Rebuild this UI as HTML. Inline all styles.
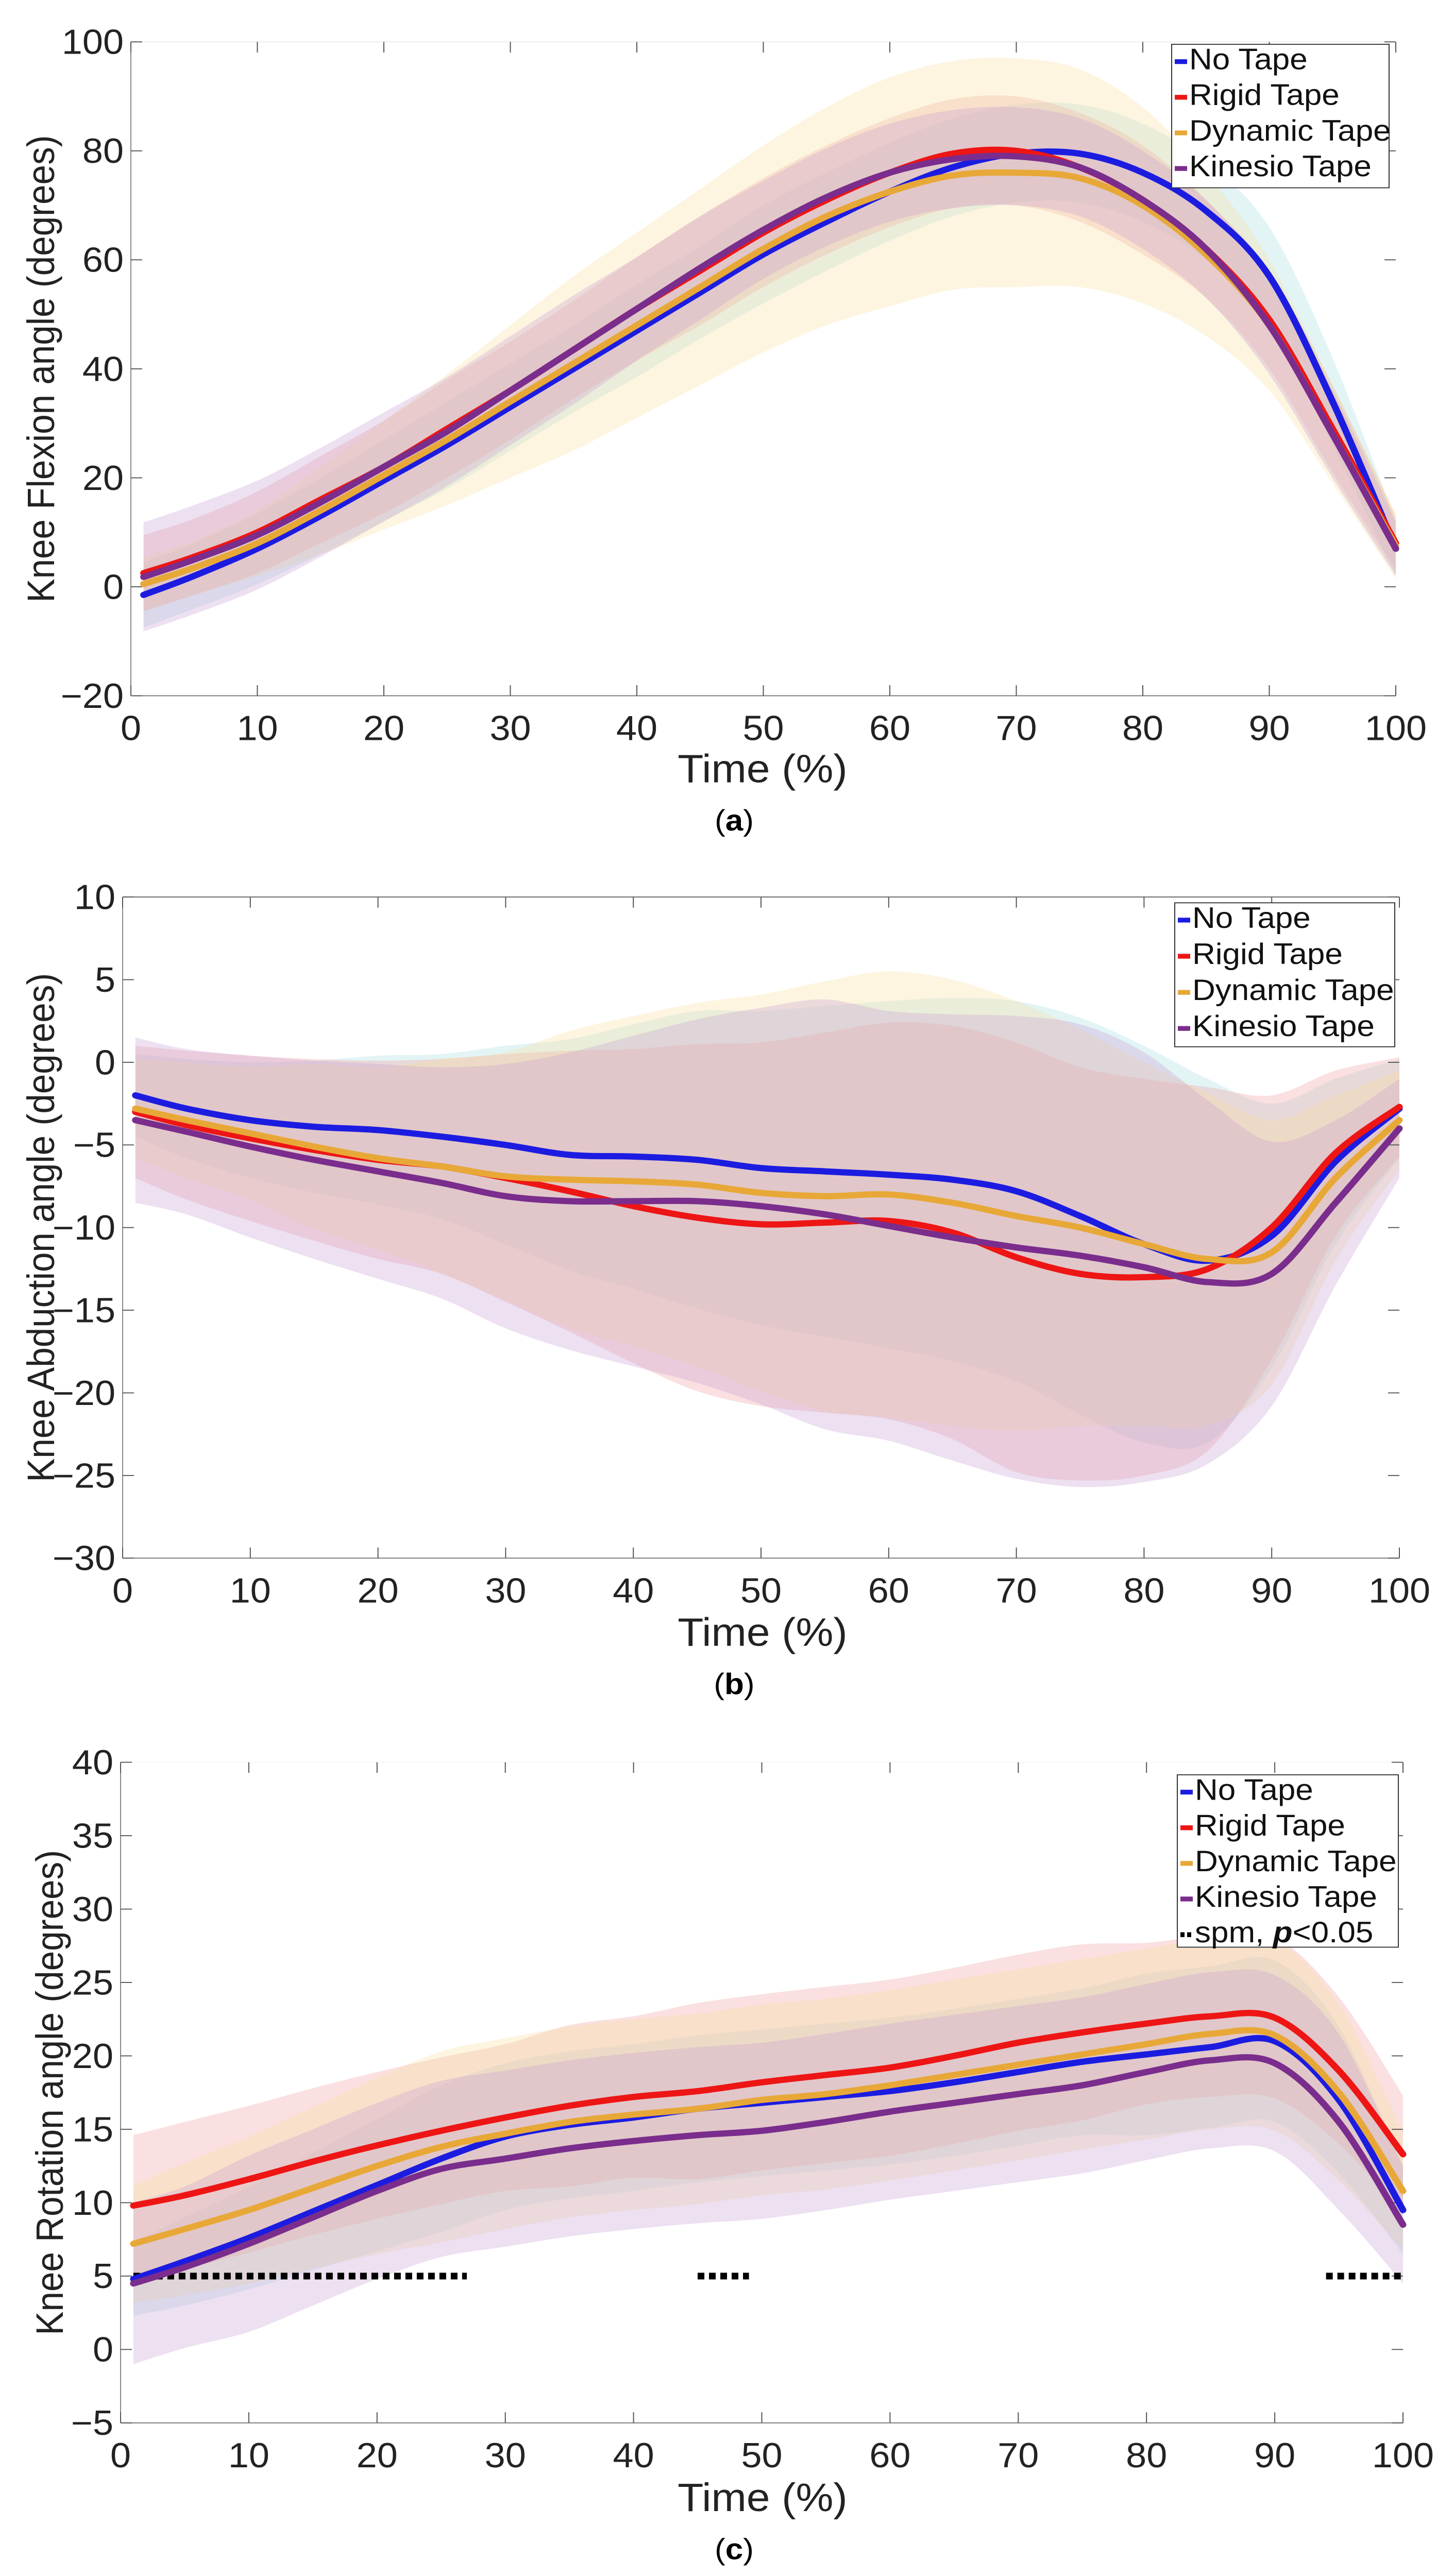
<!DOCTYPE html>
<html><head><meta charset="utf-8"><style>
html,body{margin:0;padding:0;background:#fff;width:100%;height:100%;overflow:hidden}
svg{display:block;position:absolute;left:0;top:0;width:100vw;height:100vh}
text{font-family:"Liberation Sans",sans-serif}
</style></head><body>
<svg id="fig" viewBox="0 0 2789 5350" preserveAspectRatio="none" xmlns="http://www.w3.org/2000/svg"></svg>
<script>
const timePts=[1,5,10,15,20,25,30,35,40,45,50,55,60,65,70,75,80,85,90,95,100];
const seriesNames=["No Tape","Rigid Tape","Dynamic Tape","Kinesio Tape"];
const xTicks=[0,10,20,30,40,50,60,70,80,90,100];
// Panel a
const aNo=[-1.5,2,7,13,19.5,26,33,40,47,54,61,67,72.5,77,79.5,79.5,76,69,57,34,7];
const aRigid=[2.5,5.5,10,16,22,29,36,43.5,51,58,65,71,76,79.5,80,77,71,62,49,29,8];
const aDyn=[0.5,3.5,8,14,20.5,27,34,41,48,55,62,68,72.5,75.5,76,75,70,61,48,28,7.5];
const aKin=[1.8,5,9.5,15.5,22,28.5,36,43.5,51,58.5,65.5,71.5,76,78.5,79,77,71,62,48,28,7];
const aNoSd=[6,6,6.5,7,7.5,8,8,8,8.5,8.5,9,9,9,9,9,9,9,9,9,8,5];
const aRigidSd=[7,7,7.5,8,8.5,9,9,9,9.5,10,10,10,10,10,10,10,10,9,9,8,5];
const aDynSd=[5,5,6,8,10,12,14,16,17,18,19,20,21,21,21,20,18,15,12,9,6];
const aKinSd=[10,10,10,10,10,10,10,10,9.5,9.5,9,9,9,9,9,9,9,9,9,8,5];
const aYTicks=[-20,0,20,40,60,80,100];
// Panel b
const bNo=[-2,-2.8,-3.5,-3.9,-4.1,-4.5,-5.0,-5.6,-5.7,-5.9,-6.4,-6.6,-6.8,-7.1,-7.8,-9.3,-11,-12,-10.5,-6,-2.8];
const bRigid=[-3.0,-3.8,-4.6,-5.3,-5.9,-6.3,-7.0,-7.8,-8.7,-9.4,-9.8,-9.7,-9.6,-10.3,-11.8,-12.8,-13,-12.5,-10,-5.5,-2.7];
const bDyn=[-2.8,-3.5,-4.3,-5.1,-5.8,-6.3,-6.9,-7.1,-7.2,-7.4,-7.9,-8.1,-8.0,-8.5,-9.3,-10,-11,-11.9,-11.5,-7,-3.5];
const bKin=[-3.5,-4.2,-5.1,-5.9,-6.6,-7.3,-8.1,-8.4,-8.4,-8.4,-8.7,-9.2,-9.9,-10.6,-11.2,-11.7,-12.4,-13.3,-12.8,-8.5,-4.0];
const bNoSd=[2.5,3,3.5,4,4.5,5,6,7,8,9,9.5,10,10.5,11,11.5,12,12,11,8,5,3];
const bRigidSd=[4,4.5,5,5.5,6,6.5,7.5,8.5,9.5,10.5,11,11.5,12,12.5,13,12.5,12,11,8,5,3];
const bDynSd=[3,3.5,4,5,5.5,6.5,7.5,9,10,11,12,13,13.5,13.5,13,12,11,10,8,5,3];
const bKinSd=[5,5,5.5,6,6.5,7,8,9,10,11,12,13,13,13.5,14,14,13,11,8,5,3];
const bYTicks=[-30,-25,-20,-15,-10,-5,0,5,10];
// Panel c
const cNo=[4.8,6,7.6,9.4,11.2,13,14.5,15.3,15.8,16.4,16.8,17.2,17.6,18.2,18.9,19.6,20.1,20.6,21.0,17,9.5];
const cRigid=[9.8,10.5,11.6,12.8,13.9,14.9,15.8,16.6,17.2,17.6,18.2,18.7,19.2,20.0,20.9,21.6,22.2,22.7,22.6,19,13.3];
const cDyn=[7.2,8.2,9.5,11.0,12.5,13.8,14.7,15.5,16.0,16.4,17.0,17.4,18.0,18.7,19.4,20.1,20.8,21.5,21.4,17.5,10.8];
const cKin=[4.5,5.6,7.2,9.0,10.8,12.3,13.0,13.7,14.2,14.6,14.9,15.5,16.2,16.8,17.4,18.0,18.9,19.7,19.5,15.5,8.5];
const cNoSd=[2.5,3,3.5,4,4.5,5,5,5,5,5,5,5,5,5,5,5,5.5,5.5,5.5,5,3];
const cRigidSd=[4.8,5,5,5,5,5,5,5.5,5.5,6,6,6,6,6,6,6,5.5,5.5,5.5,5,4];
const cDynSd=[4,4.5,5,5.5,6,6.5,6.5,6.5,6.5,6.5,6.5,6.5,6.5,6.5,6.5,6.5,6.5,6.5,6.5,6,4];
const cKinSd=[5.5,5.5,6,6,6,6,6,6,6,6,6,6,6,6,6,6,6,6,6,6,4];
const cYTicks=[-5,0,5,10,15,20,25,30,35,40];
const spmStart=[1,45,94];
const spmEnd=[27,49,100];
const spmLevel=5;

const NS="http://www.w3.org/2000/svg";
const svg=document.getElementById('fig');
const colors=["#1c1ce0","#ee1515","#e8a838","#7a2d8c"];
const fills=["#a8dce0","#f0a0a0","#f8e0a0","#c8a0d4"];
function mk(tag,attrs,parent){const e=document.createElementNS(NS,tag);for(const k in attrs)e.setAttribute(k,attrs[k]);(parent||svg).appendChild(e);return e;}
function smoothPath(pts){
  let d="M"+pts[0][0].toFixed(1)+","+pts[0][1].toFixed(1);
  for(let i=0;i<pts.length-1;i++){
    const p0=pts[Math.max(0,i-1)],p1=pts[i],p2=pts[i+1],p3=pts[Math.min(pts.length-1,i+2)];
    const c1=[p1[0]+(p2[0]-p0[0])/6,p1[1]+(p2[1]-p0[1])/6];
    const c2=[p2[0]-(p3[0]-p1[0])/6,p2[1]-(p3[1]-p1[1])/6];
    d+=" C"+c1[0].toFixed(1)+","+c1[1].toFixed(1)+" "+c2[0].toFixed(1)+","+c2[1].toFixed(1)+" "+p2[0].toFixed(1)+","+p2[1].toFixed(1);
  }
  return d;
}
function panel(cfg){
  const g=mk('g',{});
  
  
  const ymin=cfg.yTicks[0],ymax=cfg.yTicks[cfg.yTicks.length-1];
  const X=v=>cfg.x0+(v-0)/(100-0)*(cfg.x1-cfg.x0);
  const Y=v=>cfg.yb-(v-ymin)/(ymax-ymin)*(cfg.yb-cfg.yt);
  cfg.means.forEach((m,si)=>{
    const sd=cfg.sds[si];
    const up=timePts.map((t,i)=>[X(t),Y(m[i]+sd[i])]);
    const lo=timePts.map((t,i)=>[X(t),Y(m[i]-sd[i])]).reverse();
    const d=smoothPath(up)+" L"+smoothPath(lo).slice(1)+" Z";
    const p=mk('path',{d:d,fill:fills[si],'fill-opacity':0.32,stroke:'none'},g);
    
    
  });
  const ax=mk('g',{stroke:'#555','stroke-width':2,fill:'none'},g);
  
  
  mk('line',{x1:cfg.x0,y1:cfg.yt,x2:cfg.x0,y2:cfg.yb,stroke:'#888'},ax);
  mk('line',{x1:cfg.x0,y1:cfg.yb,x2:cfg.x1,y2:cfg.yb,stroke:'#777'},ax);
  mk('line',{x1:cfg.x0,y1:cfg.yt,x2:cfg.x1,y2:cfg.yt,stroke:cfg.topColor},ax);
  xTicks.forEach(t=>{
    mk('line',{x1:X(t),y1:cfg.yb,x2:X(t),y2:cfg.yb-22},ax);
    mk('line',{x1:X(t),y1:cfg.yt,x2:X(t),y2:cfg.yt+22},ax);
    const tx=mk('text',{x:X(t),y:cfg.yb+92,'text-anchor':'middle','font-size':72,fill:'#222'},g);
    tx.textContent=t;
    
    
  });
  cfg.yTicks.forEach(t=>{
    mk('line',{x1:cfg.x0,y1:Y(t),x2:cfg.x0+22,y2:Y(t)},ax);
    mk('line',{x1:cfg.x1,y1:Y(t),x2:cfg.x1-22,y2:Y(t)},ax);
    const ty=mk('text',{x:cfg.x0-14,y:Y(t)+25,'text-anchor':'end','font-size':72,fill:'#222'},g);
    ty.textContent=(t<0?'\u2212'+(-t):t);
    
    
  });
  if(cfg.spm){
    spmStart.forEach((s,i)=>{
      const l=mk('line',{x1:X(s),y1:Y(spmLevel),x2:X(spmEnd[i]),y2:Y(spmLevel),stroke:'#000','stroke-width':14,'stroke-dasharray':'13,9'},g);
      
      
    });
  }
  cfg.means.forEach((m,si)=>{
    const pts=timePts.map((t,i)=>[X(t),Y(m[i])]);
    const p=mk('path',{d:smoothPath(pts),fill:'none',stroke:colors[si],'stroke-width':13,'stroke-linejoin':'round','stroke-linecap':'round'},g);
    
    
  });
  const yt=mk('text',{x:0,y:0,'text-anchor':'middle','font-size':74,fill:'#222',transform:'translate('+cfg.ytx+','+((cfg.yt+cfg.yb)/2)+') rotate(-90)'},g);
  yt.textContent=cfg.ytitle;
  
  
  const xt=mk('text',{x:1480,y:cfg.xty,'text-anchor':'middle','font-size':82,fill:'#222'},g);
  xt.textContent='Time (%)';
  
  
  const cap=mk('text',{x:1425,y:cfg.capy,'text-anchor':'middle','font-size':62,fill:'#000','font-family':'Liberation Serif, serif'},g);
  cap.innerHTML='(<tspan font-weight="bold">'+cfg.id+'</tspan>)';
  
  
  const lg=mk('g',{},g);
  
  
  mk('rect',{x:cfg.lx,y:cfg.ly,width:cfg.lw,height:cfg.lh,fill:'#fff',stroke:'#333','stroke-width':2},lg);
  const n=cfg.spm?5:4;
  for(let i=0;i<n;i++){
    const yy=cfg.ly+52+i*cfg.lrow;
    if(i<4){mk('line',{x1:cfg.lx+6,y1:yy-16,x2:cfg.lx+30,y2:yy-16,stroke:colors[i],'stroke-width':10},lg);}
    else{mk('line',{x1:cfg.lx+6,y1:yy-16,x2:cfg.lx+30,y2:yy-16,stroke:'#000','stroke-width':10,'stroke-dasharray':'8,5'},lg);}
    const t=mk('text',{x:cfg.lx+34,y:yy,'font-size':62,fill:'#111'},lg);
    if(i<4)t.textContent=seriesNames[i];else t.innerHTML='spm, <tspan font-weight="bold" font-style="italic">p</tspan>&lt;0.05';
    
    
  }
}
panel({id:'a',x0:254,x1:2709,yt:87,yb:1445,yTicks:aYTicks,means:[aNo,aRigid,aDyn,aKin],sds:[aNoSd,aRigidSd,aDynSd,aKinSd],ytitle:'Knee Flexion angle (degrees)',ytx:105,xty:1625,capy:1725,lx:2274,ly:92,lw:422,lh:298,lrow:74,topColor:'#eee'});
panel({id:'b',x0:238,x1:2716,yt:1863,yb:3236,yTicks:bYTicks,means:[bNo,bRigid,bDyn,bKin],sds:[bNoSd,bRigidSd,bDynSd,bKinSd],ytitle:'Knee Abduction angle (degrees)',ytx:105,xty:3418,capy:3518,lx:2280,ly:1875,lw:427,lh:299,lrow:75,topColor:'#666'});
panel({id:'c',x0:234,x1:2723,yt:3660,yb:5032,yTicks:cYTicks,means:[cNo,cRigid,cDyn,cKin],sds:[cNoSd,cRigidSd,cDynSd,cKinSd],ytitle:'Knee Rotation angle (degrees)',ytx:122,xty:5215,capy:5315,lx:2285,ly:3686,lw:429,lh:358,lrow:74,topColor:'#f4f4f4',spm:true});
</script>
</body></html>
